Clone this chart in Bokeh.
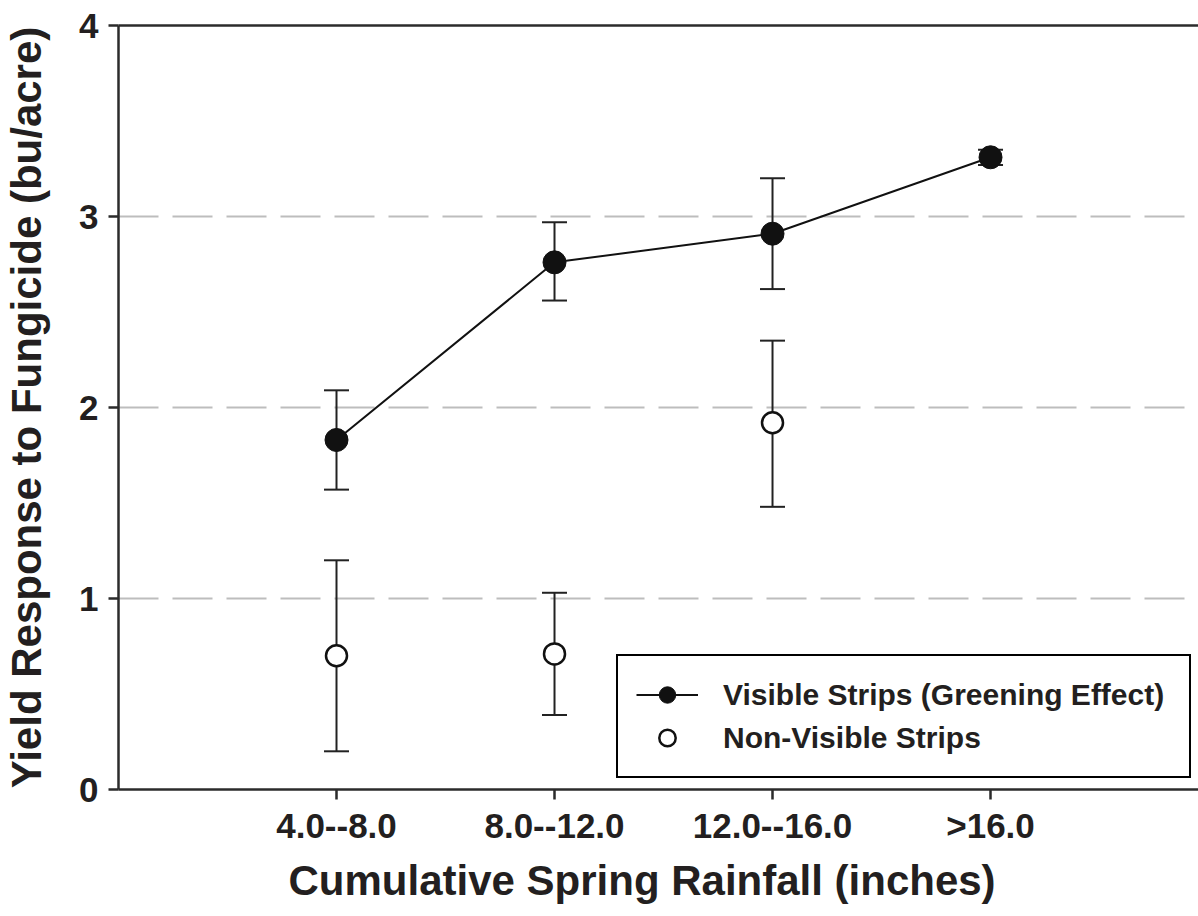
from bokeh.plotting import figure
from bokeh.models import (ColumnDataSource, Whisker, TeeHead, FixedTicker, LinearAxis,
                          Legend, LegendItem, Range1d, Title)
from bokeh.embed import file_html
from bokeh.resources import INLINE

# ---- data ----
categories = ["4.0--8.0", "8.0--12.0", "12.0--16.0", ">16.0"]
visible_mean = [1.83, 2.76, 2.91, 3.31]
visible_lower = [1.57, 2.56, 2.62, 3.27]
visible_upper = [2.09, 2.97, 3.20, 3.35]

nonvis_categories = ["4.0--8.0", "8.0--12.0", "12.0--16.0"]
nonvis_mean = [0.70, 0.71, 1.92]
nonvis_lower = [0.20, 0.39, 1.48]
nonvis_upper = [1.20, 1.03, 2.35]

y_ticks = [0, 1, 2, 3, 4]
grid_ticks = [1, 2, 3]

x_title = "Cumulative Spring Rainfall (inches)"
y_title = "Yield Response to Fungicide (bu/acre)"

FONT = "Liberation Sans"
TXT = "#231f20"
AX = "#2b2b2b"

pos = {c: i + 1 for i, c in enumerate(categories)}

vis_src = ColumnDataSource(dict(x=[pos[c] for c in categories], y=visible_mean,
                                lo=visible_lower, hi=visible_upper))
non_src = ColumnDataSource(dict(x=[pos[c] for c in nonvis_categories], y=nonvis_mean,
                                lo=nonvis_lower, hi=nonvis_upper))

p = figure(frame_width=1080, frame_height=764, output_backend="svg", toolbar_location=None,
           x_range=Range1d(0, 4.954), y_range=Range1d(0, 4),
           min_border_left=115, min_border_right=0, min_border_top=25, min_border_bottom=110)
p.outline_line_color = None
p.background_fill_color = "white"

# grid
p.xgrid.visible = False
p.ygrid.ticker = FixedTicker(ticks=grid_ticks)
p.ygrid.grid_line_color = "#bdbdbd"
p.ygrid.grid_line_width = 2
p.ygrid.grid_line_dash = "40 14"

# axes
xa = p.xaxis[0]
xa.ticker = FixedTicker(ticks=[pos[c] for c in categories])
xa.major_label_overrides = {pos[c]: c for c in categories}
ya = p.yaxis[0]
ya.ticker = FixedTicker(ticks=y_ticks)
for ax in (xa, ya):
    ax.axis_line_color = AX
    ax.axis_line_width = 2.5
    ax.major_tick_line_color = AX
    ax.major_tick_line_width = 2.5
    ax.major_tick_out = 10
    ax.major_tick_in = 0
    ax.minor_tick_line_color = None
    ax.major_label_text_font = FONT
    ax.major_label_text_font_style = "bold"
    ax.major_label_text_font_size = "35px"
    ax.major_label_text_color = TXT
    ax.axis_label_text_font = FONT
    ax.axis_label_text_font_style = "bold"
    ax.axis_label_text_font_size = "42px"
    ax.axis_label_text_color = TXT
xa.major_label_standoff = 6
ya.major_label_standoff = 10
ya.axis_label = y_title
ya.axis_label_standoff = 26

top = LinearAxis(ticker=FixedTicker(ticks=[]), major_label_text_font_size="0px",
                 axis_line_color=AX, axis_line_width=2.5, major_tick_line_color=None,
                 minor_tick_line_color=None)
p.add_layout(top, "above")

xlabel = Title(text=x_title, align="left", offset=170, standoff=15,
               text_font=FONT, text_font_style="bold", text_font_size="42px",
               text_color=TXT)
p.add_layout(xlabel, "below")

# error bars
for src in (vis_src, non_src):
    w = Whisker(source=src, base="x", lower="lo", upper="hi", line_color="#222222", line_width=2,
                upper_head=TeeHead(size=25, line_width=2, line_color="#222222"),
                lower_head=TeeHead(size=25, line_width=2, line_color="#222222"))
    p.add_layout(w)

line_r = p.line("x", "y", source=vis_src, line_color="#111111", line_width=2)
vis_r = p.scatter("x", "y", source=vis_src, size=23, fill_color="#111111", line_color="#111111",
                  line_width=1)
non_r = p.scatter("x", "y", source=non_src, size=21, fill_color="white", line_color="#111111",
                  line_width=2.5)

legend = Legend(items=[LegendItem(label="Visible Strips (Greening Effect)", renderers=[line_r, vis_r]),
                       LegendItem(label="Non-Visible Strips", renderers=[non_r])],
                location=(498, 11))
legend.label_text_font = FONT
legend.label_text_font_style = "bold"
legend.label_text_font_size = "30px"
legend.label_text_color = TXT
legend.glyph_width = 62
legend.glyph_height = 41
legend.label_height = 41
legend.label_width = 448
legend.spacing = 2
legend.label_standoff = 25
legend.padding = 18
legend.margin = 0
legend.border_line_color = "#000000"
legend.border_line_width = 2.5
legend.border_line_alpha = 1
legend.background_fill_alpha = 1
p.add_layout(legend, "center")

open("out.html", "w").write(file_html(p, INLINE))
